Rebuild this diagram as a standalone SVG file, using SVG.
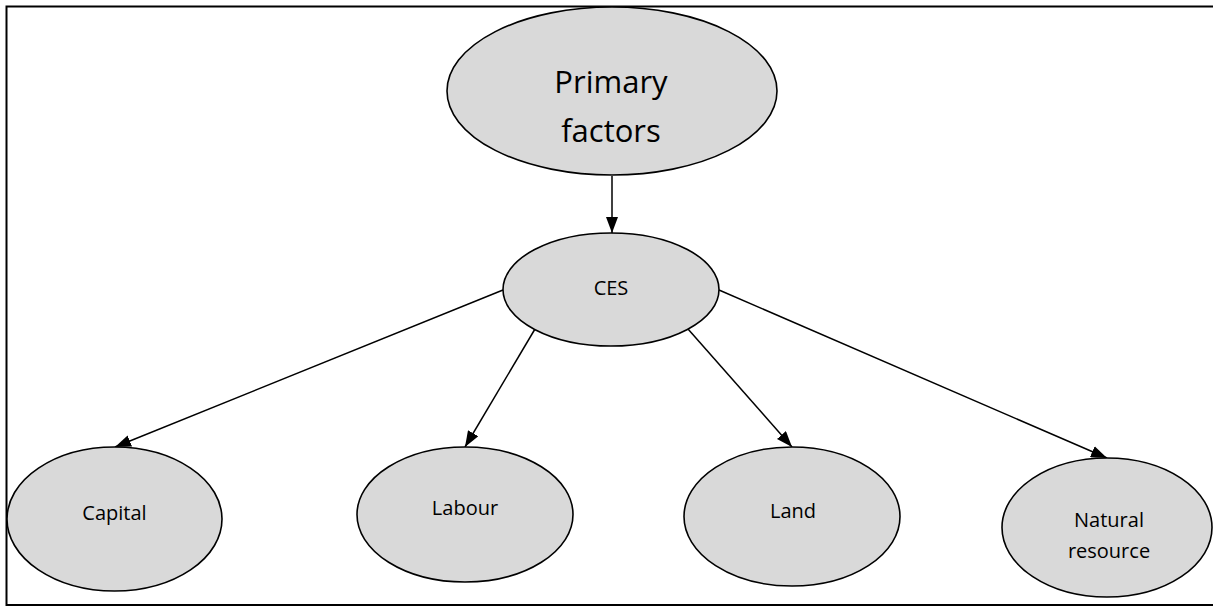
<svg xmlns="http://www.w3.org/2000/svg" width="1213" height="610" viewBox="0 0 1213 610">
  <style>
    .node { fill: #d9d9d9; stroke: #000; stroke-width: 1.6; }
    .label { font-family: "Open Sans", "Liberation Sans", sans-serif; fill: #000; text-anchor: middle; }
    .big { font-size: 31px; }
    .small { font-size: 20px; }
    .edge { stroke: #000; stroke-width: 1.5; fill: none; marker-end: url(#arrow); }
  </style>
  <defs>
    <marker id="arrow" viewBox="0 0 16 12" refX="16" refY="6" markerWidth="16" markerHeight="12" markerUnits="userSpaceOnUse" orient="auto">
      <path d="M0,0 L16,6 L0,12 Z" fill="#000"/>
    </marker>
  </defs>

  <rect width="1213" height="610" fill="#fff"/>
  <!-- page frame (open on the right) -->
  <path d="M1213,6.5 H6.5 V605 H1213" fill="none" stroke="#000" stroke-width="2"/>

  <g id="connectors">
    <line class="edge" x1="612" y1="176" x2="612" y2="233"/>
    <line class="edge" x1="503" y1="290" x2="115" y2="447"/>
    <line class="edge" x1="535" y1="329" x2="465" y2="447"/>
    <line class="edge" x1="688" y1="329" x2="792" y2="447"/>
    <line class="edge" x1="719" y1="290" x2="1107" y2="458"/>
  </g>

  <g id="primary-factors">
    <ellipse class="node" cx="612" cy="91" rx="165" ry="84"/>
    <text class="label big" x="611" y="93">Primary</text>
    <text class="label big" x="611" y="142">factors</text>
  </g>

  <g id="ces">
    <ellipse class="node" cx="611" cy="289.5" rx="108" ry="56.5"/>
    <text class="label small" x="611" y="295">CES</text>
  </g>

  <g id="capital">
    <ellipse class="node" cx="114.5" cy="519" rx="107.5" ry="72"/>
    <text class="label small" x="114.5" y="520">Capital</text>
  </g>

  <g id="labour">
    <ellipse class="node" cx="465" cy="514.5" rx="108" ry="67.5"/>
    <text class="label small" x="465" y="515">Labour</text>
  </g>

  <g id="land">
    <ellipse class="node" cx="792" cy="516.5" rx="108" ry="69.5"/>
    <text class="label small" x="793" y="518">Land</text>
  </g>

  <g id="natural-resource">
    <ellipse class="node" cx="1107" cy="527.5" rx="105" ry="69.5"/>
    <text class="label small" x="1109" y="527">Natural</text>
    <text class="label small" x="1109" y="558">resource</text>
  </g>
</svg>
